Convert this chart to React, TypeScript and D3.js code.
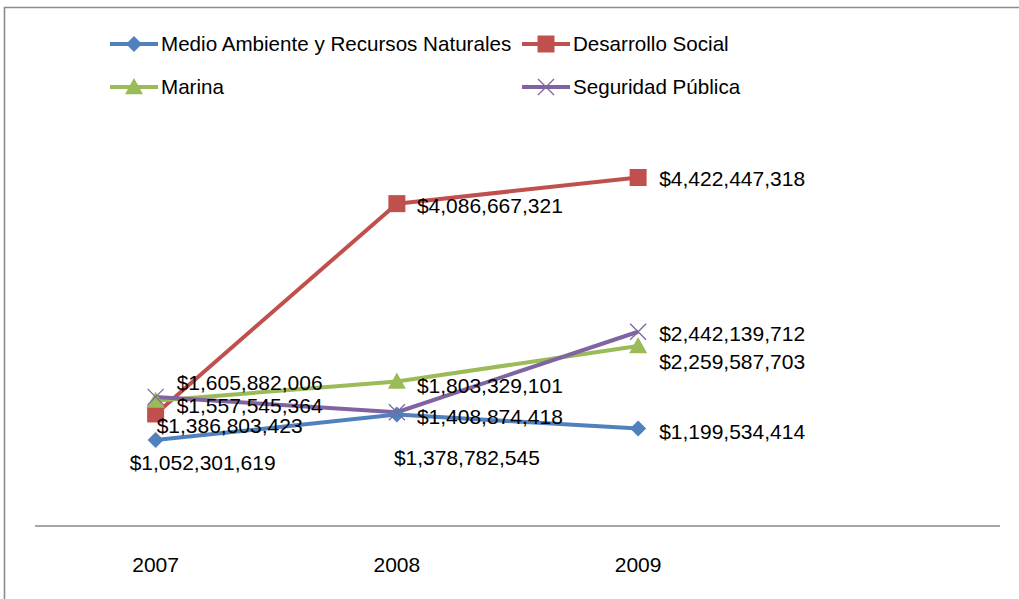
import React from "react";
import * as d3 from "d3";

const categories = ["2007", "2008", "2009"];
const seriesNames = [
  "Medio Ambiente y Recursos Naturales",
  "Desarrollo Social",
  "Marina",
  "Seguridad Pública",
];
const medioAmbiente = [1052301619, 1378782545, 1199534414];
const desarrolloSocial = [1386803423, 4086667321, 4422447318];
const marina = [1557545364, 1803329101, 2259587703];
const seguridadPublica = [1605882006, 1408874418, 2442139712];

const colors = ["#4F81BD", "#C0504D", "#9BBB59", "#8064A2"];
const markers = ["diamond", "square", "triangle", "x"];

// label offsets (dx to text start, dy to text centre) relative to point
const labelOffsets: [number, number][][] = [
  [[-26, 23], [-3, 43], [21, 3]],
  [[1, 12], [20, 2], [21, 1]],
  [[21, 5], [20, 4], [21, 16]],
  [[21, -14], [20, 4], [21, 2]],
];

const W = 1019;
const H = 599;
const FONT = "'Liberation Sans', Arial, sans-serif";

function Marker({ type, x, y, color }: { type: string; x: number; y: number; color: string }) {
  if (type === "diamond") {
    const s = 8;
    return <path d={`M${x},${y - s}L${x + s},${y}L${x},${y + s}L${x - s},${y}Z`} fill={color} />;
  }
  if (type === "square") {
    const s = 8.5;
    return <rect x={x - s} y={y - s} width={2 * s} height={2 * s} fill={color} />;
  }
  if (type === "triangle") {
    const s = 9;
    return <path d={`M${x},${y - s}L${x + s},${y + s * 0.8}L${x - s},${y + s * 0.8}Z`} fill={color} />;
  }
  const s = 8;
  return (
    <path
      d={`M${x - s},${y - s}L${x + s},${y + s}M${x - s},${y + s}L${x + s},${y - s}`}
      stroke={color}
      strokeWidth={1.3}
      fill="none"
    />
  );
}

export default function App() {
  const allSeries = [medioAmbiente, desarrolloSocial, marina, seguridadPublica];
  const x = d3.scaleBand<string>().domain([...categories, ""]).range([35, 1000]);
  const cx = (c: string) => (x(c) as number) + x.bandwidth() / 2;
  const y = d3.scaleLinear().domain([0, 5000000000]).range([522, 132.5]);
  const fmt = (v: number) => "$" + d3.format(",")(v);
  const line = d3
    .line<number>()
    .x((_, i) => cx(categories[i]))
    .y((d) => y(d));

  const legendPos = [
    [110, 44],
    [522, 44],
    [110, 87],
    [522, 87],
  ];

  return (
    <svg
      width={W}
      height={H}
      style={{ position: "absolute", left: 0, top: 0, background: "#fff" }}
      fontFamily={FONT}
    >
      <rect x={0} y={0} width={W} height={H} fill="#fff" />
      <path d={`M4.5,${H}L4.5,7.5L${W},7.5`} fill="none" stroke="#8c8c8c" strokeWidth={1.6} />

      {/* legend */}
      {seriesNames.map((name, i) => {
        const [lx, ly] = legendPos[i];
        return (
          <g key={name}>
            <line x1={lx} x2={lx + 48} y1={ly} y2={ly} stroke={colors[i]} strokeWidth={4} />
            <Marker type={markers[i]} x={lx + 24} y={ly} color={colors[i]} />
            <text x={lx + 51} y={ly} dy="0.35em" fontSize={20.6} fill="#000">
              {name}
            </text>
          </g>
        );
      })}

      {/* axis */}
      <line x1={35} x2={1000} y1={y(0) + 4} y2={y(0) + 4} stroke="#a6a6a6" strokeWidth={2} />
      {categories.map((c) => (
        <text key={c} x={cx(c)} y={565} dy="0.35em" textAnchor="middle" fontSize={21} fill="#000">
          {c}
        </text>
      ))}

      {/* lines */}
      {allSeries.map((s, i) => (
        <path key={"l" + i} d={line(s) as string} fill="none" stroke={colors[i]} strokeWidth={4} strokeLinejoin="round" />
      ))}
      {allSeries.map((s, i) =>
        s.map((v, j) => (
          <Marker key={`m${i}-${j}`} type={markers[i]} x={cx(categories[j])} y={y(v)} color={colors[i]} />
        ))
      )}

      {/* labels */}
      {allSeries.map((s, i) =>
        s.map((v, j) => (
          <text
            key={`t${i}-${j}`}
            x={cx(categories[j]) + labelOffsets[i][j][0]}
            y={y(v) + labelOffsets[i][j][1]}
            dy="0.35em"
            fontSize={21}
            fill="#000"
          >
            {fmt(v)}
          </text>
        ))
      )}
    </svg>
  );
}
